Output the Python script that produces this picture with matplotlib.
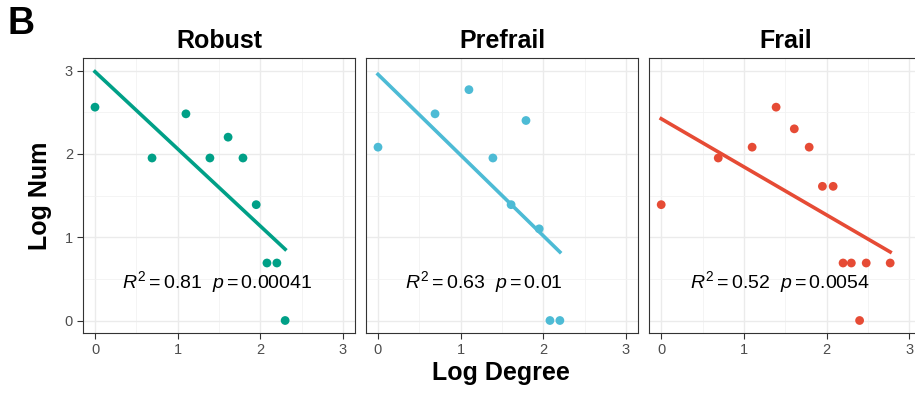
import numpy as np
import matplotlib
matplotlib.use("Agg")
import matplotlib.pyplot as plt
from matplotlib.ticker import MultipleLocator

plt.rcParams['font.family'] = ['Liberation Sans', 'DejaVu Sans']
plt.rcParams['mathtext.fontset'] = 'custom'
plt.rcParams['mathtext.rm'] = 'Liberation Sans'
plt.rcParams['mathtext.it'] = 'Liberation Sans:italic'

groups = ["Robust", "Prefrail", "Frail"]
colors = ["#00A087", "#4DBBD5", "#E64B35"]

robust_x = [0, 0.69, 1.10, 1.39, 1.61, 1.79, 1.95, 2.08, 2.20, 2.30]
robust_y = [2.56, 1.95, 2.48, 1.95, 2.20, 1.95, 1.39, 0.69, 0.69, 0]

prefrail_x = [0, 0.69, 1.10, 1.39, 1.61, 1.79, 1.95, 2.08, 2.20]
prefrail_y = [2.08, 2.48, 2.77, 1.95, 1.39, 2.40, 1.10, 0, 0]

frail_x = [0, 0.69, 1.10, 1.39, 1.61, 1.79, 1.95, 2.08, 2.20, 2.30, 2.48, 2.77, 2.40]
frail_y = [1.39, 1.95, 2.08, 2.56, 2.30, 2.08, 1.61, 1.61, 0.69, 0.69, 0.69, 0.69, 0]

labels = [r"$R^2 = 0.81\ \ p = 0.00041$",
          r"$R^2 = 0.63\ \ p = 0.01$",
          r"$R^2 = 0.52\ \ p = 0.0054$"]
label_x = [1.48, 1.28, 1.44]

xs = [robust_x, prefrail_x, frail_x]
ys = [robust_y, prefrail_y, frail_y]

W, H = 915, 394
fig = plt.figure(figsize=(W / 100, H / 100), dpi=100)

lefts = [82.6, 365.6, 648.8]
pw = 272.8
top, bottom = 58, 333

for i in range(3):
    ax = fig.add_axes([lefts[i] / W, (H - bottom) / H, pw / W, (bottom - top) / H])
    x = np.array(xs[i])
    y = np.array(ys[i])
    slope, inter = np.polyfit(x, y, 1)
    xl = np.array([x.min(), x.max()])
    ax.plot(xl, inter + slope * xl, color=colors[i], lw=2.6, zorder=3)
    ax.scatter(x, y, s=40, color=colors[i], edgecolors='none', zorder=4)
    ax.text(label_x[i], 0.46, labels[i], ha='center', va='center', fontsize=14, color='black', zorder=5)
    ax.set_xlim(-0.15, 3.15)
    ax.set_ylim(-0.15, 3.15)
    ax.xaxis.set_major_locator(MultipleLocator(1))
    ax.yaxis.set_major_locator(MultipleLocator(1))
    ax.xaxis.set_minor_locator(MultipleLocator(0.5))
    ax.yaxis.set_minor_locator(MultipleLocator(0.5))
    ax.grid(which='major', color='#EBEBEB', lw=1.0)
    ax.grid(which='minor', color='#F2F2F2', lw=0.6)
    ax.set_axisbelow(True)
    ax.tick_params(which='minor', length=0)
    ax.tick_params(which='major', length=4, width=0.8, color='#333333', labelsize=10.5, labelcolor='#4D4D4D', pad=3)
    for s in ax.spines.values():
        s.set_color('#333333')
        s.set_linewidth(0.8)
    if i > 0:
        ax.tick_params(labelleft=False, left=False)
    ax.set_title(groups[i], fontsize=18, fontweight='bold', pad=7)

fig.text(501 / W, 1 - 373 / H, "Log Degree", ha='center', va='center', fontsize=18, fontweight='bold')
fig.text(40 / W, 1 - 196 / H, "Log Num", ha='center', va='center', rotation=90, fontsize=18, fontweight='bold')
fig.text(7 / W, 1 - 24 / H, "B", ha='left', va='center', fontsize=27, fontweight='bold')

fig.savefig("out.png", dpi=100)
